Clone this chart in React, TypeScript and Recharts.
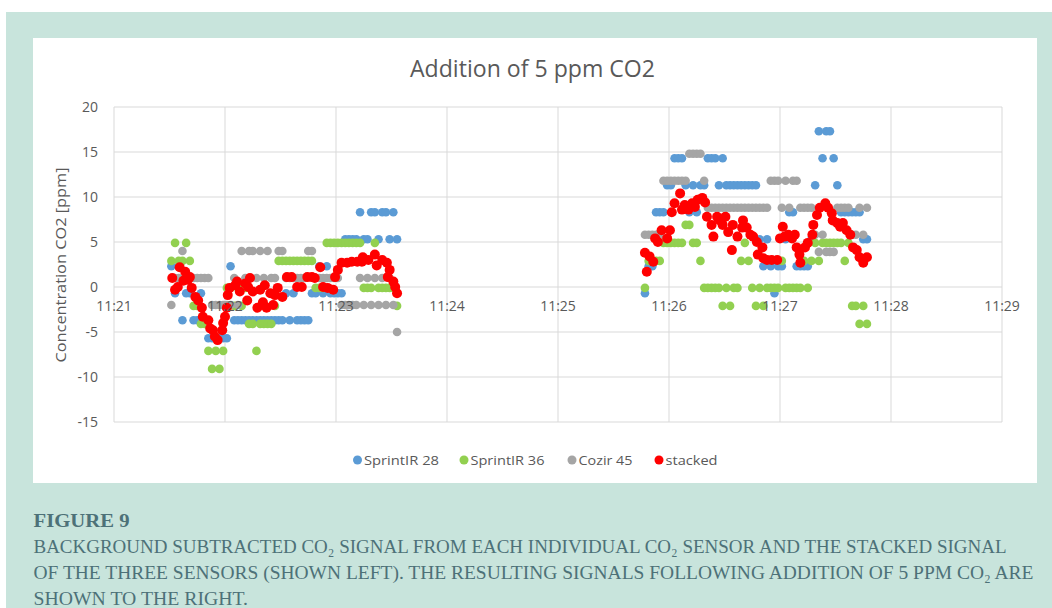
import React from 'react';
import { ScatterChart, Scatter, XAxis, YAxis, CartesianGrid } from 'recharts';

// ---- axis ticks ----
const X_TICKS = [1260, 1320, 1380, 1440, 1500, 1560, 1620, 1680, 1740]; // seconds after 11:00
const X_TICK_LABELS = ['11:21', '11:22', '11:23', '11:24', '11:25', '11:26', '11:27', '11:28', '11:29'];
const Y_TICKS = [-15, -10, -5, 0, 5, 10, 15, 20];

// ---- sample times of the three sensors (seconds after 11:00) ----
const timeLeft = [
  1291, 1293, 1295, 1297, 1299, 1301, 1303, 1305, 1307, 1309,
  1311, 1313, 1315, 1317, 1319, 1321, 1323, 1325, 1327, 1329,
  1331, 1333, 1335, 1337, 1339, 1341, 1343, 1345, 1347, 1349,
  1351, 1353, 1355, 1357, 1359, 1361, 1363, 1365, 1367, 1369,
  1371, 1373, 1375, 1377, 1379, 1381, 1383, 1385, 1387, 1389,
  1391, 1393, 1395, 1397, 1399, 1401, 1403, 1405, 1407, 1409,
  1411, 1413,
];
const timeRight = [
  1547, 1549, 1551, 1553, 1555, 1557, 1559, 1561, 1563, 1565,
  1567, 1569, 1571, 1573, 1575, 1577, 1579, 1581, 1583, 1585,
  1587, 1589, 1591, 1593, 1595, 1597, 1599, 1601, 1603, 1605,
  1607, 1609, 1611, 1613, 1615, 1617, 1619, 1621, 1623, 1625,
  1627, 1629, 1631, 1633, 1635, 1637, 1639, 1641, 1643, 1645,
  1647, 1649, 1651, 1653, 1655, 1657, 1659, 1661, 1663, 1665,
  1667,
];

// ---- SprintIR 28 ----
const sprint28Left = [
  2.3, -0.7, 2.3, -3.7, -0.7, -0.7, -3.7, -3.7, -0.7, -3.7,
  -5.7, -5.7, -5.7, -5.7, -5.7, -5.7, 2.3, -3.7, -3.7, -3.7,
  -3.7, -3.7, -3.7, -3.7, -3.7, -3.7, -3.7, -3.7, -3.7, -3.7,
  -3.7, -0.7, -3.7, -0.7, -3.7, -3.7, -3.7, -3.7, -0.7, -0.7,
  2.3, -0.7, 2.3, -0.7, -0.7, -0.7, -0.7, 5.3, 5.3, 5.3,
  5.3, 8.3, 5.3, 5.3, 8.3, 8.3, 5.3, 8.3, 8.3, 5.3,
  8.3, 5.3,
];
const sprint28Right = [
  -0.7, 2.3, 2.3, 8.3, 8.3, 8.3, 11.3, 11.3, 14.3, 14.3,
  14.3, 11.3, 8.3, 11.3, 8.3, 11.3, 11.3, 14.3, 14.3, 14.3,
  11.3, 14.3, 11.3, 11.3, 11.3, 11.3, 11.3, 11.3, 11.3, 11.3,
  11.3, 5.3, 2.3, 5.3, 2.3, -0.7, 2.3, 2.3, 5.3, 8.3,
  8.3, 2.3, 2.3, 2.3, 2.3, 5.3, 11.3, 17.3, 14.3, 17.3,
  17.3, 14.3, 11.3, 8.3, 8.3, 8.3, 8.3, 8.3, 8.3, 5.3,
  5.3,
];

// ---- SprintIR 36 ----
const sprint36Left = [
  2.9, 4.9, 2.9, 2.9, 4.9, 2.9, -2.1, -2.1, -4.1, -4.1,
  -7.1, -9.1, -7.1, -9.1, -7.1, -0.1, -0.1, -2.1, -0.1, -2.1,
  -0.1, -4.1, -4.1, -7.1, -4.1, -4.1, -4.1, -4.1, -2.1, 2.9,
  2.9, 2.9, 2.9, 2.9, 2.9, 2.9, 2.9, 2.9, 2.9, -0.1,
  -0.1, -0.1, 4.9, 4.9, 4.9, 4.9, 4.9, 4.9, 4.9, 4.9,
  4.9, 4.9, -0.1, -0.1, -0.1, 4.9, -0.1, -0.1, -0.1, -0.1,
  -0.1, -2.1,
];
const sprint36Right = [
  -0.1, 2.9, 2.9, 2.9, 2.9, 4.9, 4.9, 4.9, 4.9, 4.9,
  4.9, 6.9, 6.9, 4.9, 4.9, 2.9, -0.1, -0.1, -0.1, -0.1,
  -0.1, -2.1, -0.1, -2.1, -0.1, -0.1, 2.9, 4.9, 2.9, -0.1,
  -2.1, -0.1, -2.1, -0.1, -0.1, -0.1, -0.1, 2.9, -0.1, -0.1,
  -0.1, -0.1, -0.1, 2.9, -0.1, 2.9, 4.9, 2.9, 4.9, 4.9,
  4.9, 4.9, 4.9, 4.9, 2.9, 4.9, -2.1, -2.1, -4.1, -2.1,
  -4.1,
];

// ---- Cozir 45 ----
const cozir45Left = [
  -2, 1, 1, 4, 1, 1, 1, 1, 1, 1,
  1, -2, -2, -2, -2, -2, -2, 1, -2, 4,
  1, 4, 4, 1, 4, 1, 4, 1, 1, 4,
  4, 1, 1, 1, 1, 1, 1, 4, 4, 1,
  1, 1, 1, 1, 1, 1, -2, -2, -2, -2,
  -2, 1, -2, 1, -2, 1, -2, 1, -2, 1,
  -2, -5,
];
const cozir45Right = [
  5.8, 5.8, 5.8, 5.8, 5.8, 11.8, 11.8, 11.8, 11.8, 11.8,
  11.8, 11.8, 14.8, 14.8, 14.8, 14.8, 11.8, 8.8, 8.8, 8.8,
  8.8, 8.8, 8.8, 8.8, 8.8, 8.8, 8.8, 8.8, 8.8, 8.8,
  8.8, 8.8, 8.8, 8.8, 11.8, 11.8, 11.8, 8.8, 11.8, 8.8,
  11.8, 11.8, 8.8, 8.8, 8.8, 8.8, 5.8, 3.9, 5.8, 3.9,
  3.9, 3.9, 8.8, 8.8, 8.8, 8.8, 5.8, 5.8, 8.8, 5.8,
  8.8,
];

// ---- stacked (own, denser sample times) ----
const stackedLeftTime = [
  1291.5, 1293, 1294.5, 1295.5, 1297.5, 1298.5, 1300, 1301, 1302, 1304,
  1305.5, 1307.5, 1308, 1311, 1312, 1313.5, 1314.5, 1316, 1318.5, 1319,
  1320, 1321, 1321.5, 1322.5, 1325.5, 1326.5, 1328, 1331, 1332, 1332.5,
  1333.5, 1335, 1337.5, 1339, 1340.5, 1341.5, 1342.5, 1344.5, 1346, 1347,
  1348.5, 1351, 1353.5, 1356, 1359, 1361.5, 1364.5, 1367, 1368.5, 1371.5,
  1373, 1375.5, 1378.5, 1379.5, 1381, 1383, 1386, 1388.5, 1391.5, 1394,
  1394.5, 1397.5, 1401, 1402, 1405, 1407.5, 1408, 1409, 1411, 1412,
  1413,
];
const stackedLeft = [
  1.0, -0.3, 0, 2.2, 0.7, 1.7, 0.8, 1.1, -0.1, -1.1,
  -1.5, -2.3, -3.3, -3.7, -4.6, -4.8, -5.5, -5.9, -4.8, -4.0,
  -3.3, -2.3, -0.9, -0.1, 0.2, 0.6, -0.5, 0.4, -1.5, 0,
  1.0, -0.5, -2.3, -0.3, -1.7, 0.2, -2.3, -0.7, -2.0, -0.9,
  -0.1, -1.1, 1.1, 1.1, 0, 0, 1.1, 1.1, 1.0, 2.2,
  0, -0.1, -0.3, 1.1, 1.9, 2.7, 2.7, 2.8, 2.8, 2.8,
  3.3, 3.0, 3.6, 2.4, 3.0, 2.7, 1.1, 1.9, 0.6, 0,
  -0.7,
];
const stackedRightTime = [
  1547, 1548, 1549.5, 1551.5, 1552.5, 1554, 1556, 1559, 1560.5, 1561.5,
  1563, 1566, 1567, 1568.5, 1570.5, 1572.5, 1574, 1575.5, 1578, 1579.5,
  1580.5, 1583, 1584, 1586, 1587.5, 1589, 1590.5, 1592, 1594, 1594.5,
  1597, 1599.5, 1600, 1602, 1604, 1605.5, 1607.5, 1608, 1610.5, 1611,
  1613, 1615.5, 1618.5, 1620, 1621.5, 1622.5, 1624.5, 1626.5, 1628, 1629,
  1630.5, 1631, 1633.5, 1635, 1637.5, 1638, 1640, 1641.5, 1644.5, 1646,
  1648, 1648.5, 1651, 1652.5, 1654, 1656, 1658, 1659.5, 1661.5, 1663,
  1665, 1667,
];
const stackedRight = [
  3.8, 1.7, 3.4, 2.8, 5.4, 5.0, 6.3, 5.4, 6.3, 8.3,
  9.3, 10.4, 8.6, 9.1, 8.6, 9.3, 8.9, 9.7, 9.9, 9.4,
  7.8, 6.9, 5.6, 7.8, 7.4, 6.9, 7.8, 6.1, 4.1, 6.9,
  5.6, 6.6, 7.4, 6.6, 5.8, 5.6, 5.0, 3.6, 4.4, 3.2,
  3.0, 3.0, 3.0, 5.4, 6.7, 5.6, 5.8, 5.4, 5.8, 4.4,
  3.6, 2.7, 4.4, 4.9, 5.8, 6.9, 8.0, 8.8, 9.3, 8.8,
  8.2, 7.4, 7.1, 6.7, 7.1, 6.3, 5.8, 4.4, 4.1, 3.3,
  2.7, 3.3,
];

const SERIES_NAMES = ['SprintIR 28', 'SprintIR 36', 'Cozir 45', 'stacked'];
const SERIES_COLORS = ['#5b9bd5', '#92d050', '#a5a5a5', '#ff0000'];

const CAPTION_TITLE = 'FIGURE 9';
const CAPTION_LINES = [
  'BACKGROUND SUBTRACTED CO\u2082 SIGNAL FROM EACH INDIVIDUAL CO\u2082 SENSOR AND THE STACKED SIGNAL',
  'OF THE THREE SENSORS (SHOWN LEFT). THE RESULTING SIGNALS FOLLOWING ADDITION OF 5 PPM CO\u2082 ARE',
  'SHOWN TO THE RIGHT.',
];

// ---- layout ----
const CHART_W = 1004;
const CHART_H = 445;
const MARGIN = { top: 69, right: 35, bottom: 31, left: 21 };
const Y_AXIS_W = 60;
const X_AXIS_H = 30;
const Y_MIN = -15;
const Y_MAX = 20;
const PLOT_H = CHART_H - MARGIN.top - MARGIN.bottom - X_AXIS_H;
const ZERO_Y = MARGIN.top + (PLOT_H * (Y_MAX - 0)) / (Y_MAX - Y_MIN);

const TICK_FONT = "'Open Sans', 'Noto Sans', sans-serif";
const TICK_COLOR = '#595959';
const CAPTION_COLOR = '#4d7178';

const toPoints = (times: number[], values: number[]) =>
  times.map((t, i) => ({ t, v: values[i] }));

const seriesData = [
  [...toPoints(timeLeft, sprint28Left), ...toPoints(timeRight, sprint28Right)],
  [...toPoints(timeLeft, sprint36Left), ...toPoints(timeRight, sprint36Right)],
  [...toPoints(timeLeft, cozir45Left), ...toPoints(timeRight, cozir45Right)],
  [...toPoints(stackedLeftTime, stackedLeft), ...toPoints(stackedRightTime, stackedRight)],
];
const RADII = [4.3, 4.3, 4.3, 5];

const XTick = (props: any) => {
  const { x, payload } = props;
  const idx = X_TICKS.indexOf(payload.value);
  return (
    <text x={x} y={ZERO_Y + 24} textAnchor="middle" fill={TICK_COLOR} fontSize={14} fontFamily={TICK_FONT}>
      {idx >= 0 ? X_TICK_LABELS[idx] : ''}
    </text>
  );
};

const makeDot = (color: string, r: number) => (props: any) => {
  if (props.cx == null || props.cy == null) return <g />;
  return <circle cx={props.cx} cy={props.cy} r={r} fill={color} />;
};

const LEGEND_X = [357.5, 464, 572, 659];
const LEGEND_TEXT_W = [75, 74, 54, 52];

export default function App() {
  return (
    <div style={{ position: 'absolute', left: 0, top: 0, width: 1052, height: 608, background: '#ffffff', overflow: 'hidden' }}>
      <div style={{ position: 'absolute', left: 6, top: 12, width: 1046, height: 596, background: '#c8e4dc' }} />
      <div style={{ position: 'absolute', left: 33, top: 38, width: CHART_W, height: CHART_H, background: '#ffffff' }}>
        <ScatterChart width={CHART_W} height={CHART_H} margin={MARGIN}>
          <CartesianGrid stroke="#d9d9d9" strokeWidth={1} />
          <XAxis
            type="number"
            dataKey="t"
            domain={[1260, 1740]}
            ticks={X_TICKS}
            height={X_AXIS_H}
            axisLine={false}
            tickLine={false}
            tick={<XTick />}
            interval={0}
          />
          <YAxis
            type="number"
            dataKey="v"
            domain={[Y_MIN, Y_MAX]}
            ticks={Y_TICKS}
            width={Y_AXIS_W}
            axisLine={false}
            tickLine={false}
            tickSize={0}
            tickMargin={16}
            interval={0}
            tick={{ fill: TICK_COLOR, fontSize: 14, fontFamily: TICK_FONT }}
          />
          {seriesData.map((d, i) => (
            <Scatter
              key={SERIES_NAMES[i]}
              name={SERIES_NAMES[i]}
              data={d}
              fill={SERIES_COLORS[i]}
              isAnimationActive={false}
              shape={makeDot(SERIES_COLORS[i], RADII[i])}
            />
          ))}
        </ScatterChart>
      </div>
      <svg width={1052} height={608} style={{ position: 'absolute', left: 0, top: 0, pointerEvents: 'none' }}>
        <text x={532.5} y={77} textAnchor="middle" fontSize={24} fill="#595959"
          fontFamily="'Liberation Sans Narrow', 'Open Sans', sans-serif" textLength={245} lengthAdjust="spacingAndGlyphs">
          Addition of 5 ppm CO2
        </text>
        <text x={0} y={0} transform="translate(66,265) rotate(-90)" textAnchor="middle" fontSize={14} fill="#595959"
          fontFamily={TICK_FONT} textLength={195} lengthAdjust="spacingAndGlyphs">
          Concentration CO2 [ppm]
        </text>
        {SERIES_NAMES.map((n, i) => (
          <g key={n}>
            <circle cx={LEGEND_X[i]} cy={460} r={4.5} fill={SERIES_COLORS[i]} />
            <text x={LEGEND_X[i] + 6.5} y={464.5} fontSize={13.5} fill="#595959" fontFamily={TICK_FONT}
              textLength={LEGEND_TEXT_W[i]} lengthAdjust="spacingAndGlyphs">
              {n}
            </text>
          </g>
        ))}
        <text x={33.5} y={527} fontSize={19} fontWeight="bold" fill={CAPTION_COLOR}
          fontFamily="'Liberation Serif', 'DejaVu Serif', serif" textLength={96} lengthAdjust="spacingAndGlyphs">
          {CAPTION_TITLE}
        </text>
        {CAPTION_LINES.map((l, i) => (
          <text key={i} x={33.5} y={553 + i * 26} fontSize={19} fill={CAPTION_COLOR}
            fontFamily="'Liberation Serif', 'DejaVu Serif', serif"
            textLength={[973, 1000, 214.5][i]} lengthAdjust="spacingAndGlyphs">
            {l}
          </text>
        ))}
      </svg>
    </div>
  );
}
